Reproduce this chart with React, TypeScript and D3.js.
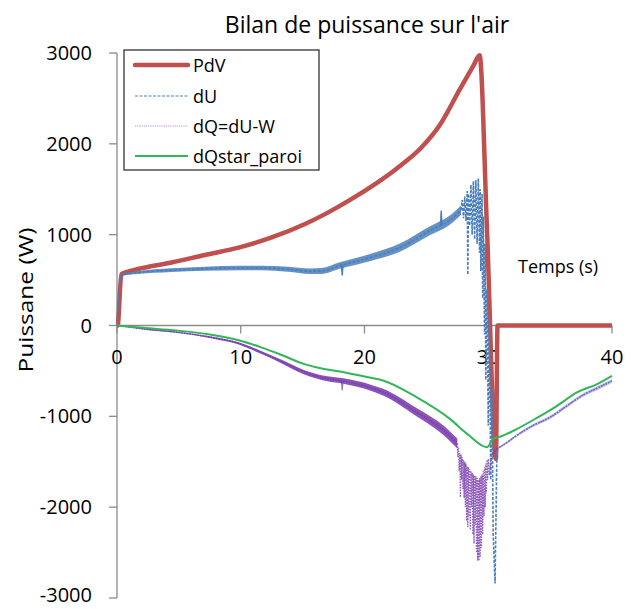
import React from "react";
import * as d3 from "d3";

const xTicks = [0, 10, 20, 30, 40];
const yTicks = [-3000, -2000, -1000, 0, 1000, 2000, 3000];

// PdV (W)
const pdvTime = [0, 0.05, 0.35, 1.7, 4.4, 7.1, 9.9, 12.5, 15.2, 17.0, 18.8, 22.9, 24.6, 26.1, 27.7, 28.8, 29.3, 29.9, 30.62, 30.75, 40];
const pdvValue = [0, 0, 565, 622, 693, 776, 860, 970, 1118, 1240, 1380, 1760, 1960, 2210, 2600, 2860, 2975, 1050, -1470, 0, 0];

// dU smooth part with its noise half-amplitude
const duTime = [0, 0.35, 1.7, 4.4, 7.1, 9.9, 11.7, 13.8, 15.6, 16.5, 18.0, 20.5, 22.9, 25.3, 26.9, 27.8];
const duValue = [0, 555, 583, 610, 625, 633, 633, 620, 598, 600, 660, 750, 860, 1045, 1160, 1270];
const duNoise = [0, 10, 16, 20, 22, 24, 25, 28, 30, 32, 35, 40, 45, 48, 50, 50];
// dU burst near the end of compression
const duBurstTime = [27.8, 27.9, 28.0, 28.1, 28.2, 28.3, 28.35, 28.4, 28.5, 28.6, 28.7, 28.8, 28.9, 29.0, 29.1, 29.2, 29.3, 29.35, 29.4, 29.5, 29.55, 29.6, 29.7, 29.75, 29.8, 29.9, 30.0, 30.1, 30.2, 30.3, 30.4, 30.55, 30.7];
const duBurstValue = [1270, 1380, 1180, 1420, 1150, 1480, 560, 1450, 1100, 1550, 1000, 1590, 950, 1600, 900, 1620, 800, 1500, 600, 1450, 300, 1200, -100, 900, -600, 400, -1100, 100, -1700, -700, -2300, -2840, -1360];
// dU isolated spikes
const duSpikeTime = [18.2, 26.2];
const duSpikeBase = [660, 1110];
const duSpikePeak = [550, 1265];

// dQ = dU - W smooth part
const dqTime = [0, 2.1, 4.8, 7.5, 9.9, 11.6, 13.4, 15.1, 17.0, 18.3, 20.5, 21.5, 24.2, 26.4, 27.5];
const dqValue = [0, -37, -73, -128, -200, -293, -403, -513, -587, -612, -685, -734, -954, -1156, -1300];
const dqNoise = [0, 6, 8, 10, 13, 16, 20, 24, 27, 30, 34, 38, 46, 52, 55];
const dqBurstTime = [27.5, 27.55, 27.6, 27.65, 27.7, 27.75, 27.8, 27.85, 27.9, 27.95, 28.0, 28.05, 28.1, 28.15, 28.2, 28.25, 28.3, 28.35, 28.4, 28.45, 28.5, 28.55, 28.6, 28.65, 28.7, 28.75, 28.8, 28.85, 28.9, 28.95, 29.0, 29.05, 29.1, 29.15, 29.2, 29.25, 29.3, 29.35, 29.4, 29.45, 29.5, 29.55, 29.6, 29.65, 29.7, 29.75, 29.8, 29.85, 29.9, 29.95, 30.0, 30.1, 30.2, 30.45, 30.7];
const dqBurstValue = [-1300, -1450, -1340, -1600, -1400, -1890, -1420, -1700, -1450, -1800, -1480, -1900, -1500, -2000, -1520, -2150, -1550, -2220, -1560, -2100, -1580, -2250, -1600, -2000, -1620, -2300, -1640, -2400, -1650, -2200, -1660, -2500, -1680, -2590, -1700, -2590, -1680, -2550, -1660, -2450, -1640, -2300, -1600, -2100, -1560, -2000, -1520, -1850, -1480, -1700, -1470, -1650, -1470, -1400, -1358];
const dqSpikeTime = [18.2];
const dqSpikeBase = [-620];
const dqSpikePeak = [-715];

// after the end of compression (PdV = 0 so dU = dQ)
const tailTime = [30.7, 31.5, 32.2, 33.5, 35.0, 36.3, 37.6, 38.8, 40.0];
const tailValue = [-1358, -1290, -1220, -1110, -1010, -890, -770, -690, -610];
const tailNoise = [10, 12, 14, 16, 18, 20, 20, 22, 22];

// dQstar_paroi
const gTime = [0, 2.1, 4.8, 7.5, 9.9, 11.6, 13.4, 15.1, 16.1, 18.5, 20.5, 21.5, 24.2, 26.9, 28.3, 29.9, 30.4, 31.0, 32.3, 33.9, 35.5, 37.2, 38.8, 40.0];
const gValue = [0, -26, -55, -99, -165, -238, -330, -422, -459, -520, -575, -605, -789, -1028, -1193, -1340, -1248, -1222, -1140, -1020, -890, -734, -645, -555];

const legendLabels = ["PdV", "dU", "dQ=dU-W", "dQstar_paroi"];

const FONT = "'Open Sans', 'DejaVu Sans', sans-serif";
const RED = "#C0504D";
const BLUE = "#4A7EBB";
const PURPLE = "#7535AA";
const GREEN = "#33B55A";
const AXIS = "#8C8C8C";

type P = [number, number];
const zip = (t: number[], v: number[]): P[] => t.map((d, i) => [d, v[i]]);

export default function App() {
  const x = d3.scaleLinear().domain([0, 40]).range([117, 612]);
  const y = d3.scaleLinear().domain([-3000, 3000]).range([598, 53]);
  const line = d3.line<P>().x((d) => x(d[0])).y((d) => y(d[1]));
  const smooth = d3.line<P>().x((d) => x(d[0])).y((d) => y(d[1])).curve(d3.curveMonotoneX);
  const band = d3
    .area<[number, number, number]>()
    .x((d) => x(d[0]))
    .y0((d) => y(d[1] - d[2]))
    .y1((d) => y(d[1] + d[2]))
    .curve(d3.curveMonotoneX);

  const duBand = duTime.map((t, i) => [t, duValue[i], duNoise[i]] as [number, number, number]);
  const dqBand = dqTime.map((t, i) => [t, dqValue[i], dqNoise[i]] as [number, number, number]);
  const tailBand = tailTime.map((t, i) => [t, tailValue[i], tailNoise[i]] as [number, number, number]);

  const spikes = (ts: number[], b: number[], p: number[]) =>
    ts.map((t, i) => line([[t - 0.06, b[i]], [t, p[i]], [t + 0.06, b[i]]]) as string);

  const legendRows = [65, 96, 126, 156];

  return (
    <svg width={633} height={609} style={{ position: "absolute", left: 0, top: 0, background: "#fff" }} fontFamily={FONT}>
      <rect x={0} y={0} width={633} height={609} fill="#fff" />
      {/* title */}
      <text x={367} y={33} fontSize={23} textAnchor="middle" fill="#000">
        Bilan de puissance sur l'air
      </text>

      {/* axes */}
      <line x1={x(0)} x2={x(0)} y1={y(3000)} y2={y(-3000)} stroke={AXIS} strokeWidth={1.3} />
      <line x1={x(0)} x2={x(40)} y1={y(0)} y2={y(0)} stroke={AXIS} strokeWidth={1.3} />
      {yTicks.map((t) => (
        <g key={"y" + t}>
          <line x1={x(0) - 8} x2={x(0)} y1={y(t)} y2={y(t)} stroke={AXIS} strokeWidth={1.3} />
          <text x={92} y={Math.min(y(t) + 7, 602)} fontSize={20} textAnchor="end" fill="#000">
            {t}
          </text>
        </g>
      ))}
      {xTicks.map((t) => (
        <g key={"x" + t}>
          <line x1={x(t)} x2={x(t)} y1={y(0)} y2={y(0) + 8} stroke={AXIS} strokeWidth={1.3} />
          <text x={x(t)} y={y(0) + 38} fontSize={20} textAnchor="middle" fill="#000">
            {t}
          </text>
        </g>
      ))}
      <text x={518} y={273} fontSize={18} fill="#000">
        Temps (s)
      </text>
      <text
        transform="translate(33,300) rotate(-90)"
        fontSize={20}
        textAnchor="middle"
        fill="#000"
        textLength={145}
        lengthAdjust="spacingAndGlyphs"
      >
        Puissane (W)
      </text>

      {/* PdV */}
      <path d={smooth(zip(pdvTime, pdvValue)) as string} fill="none" stroke={RED} strokeWidth={4.5} strokeLinejoin="round" />

      {/* dU */}
      <path d={band(duBand) as string} fill={BLUE} opacity={0.85} />
      <path d={smooth(zip(duTime, duValue)) as string} fill="none" stroke={BLUE} strokeWidth={1.6} strokeDasharray="3,1.5" />
      <path d={line(zip(duBurstTime, duBurstValue)) as string} fill="none" stroke={BLUE} strokeWidth={1.6} strokeDasharray="3,1.5" />
      {spikes(duSpikeTime, duSpikeBase, duSpikePeak).map((d, i) => (
        <path key={"dus" + i} d={d} fill="none" stroke={BLUE} strokeWidth={1.4} />
      ))}

      {/* dQ */}
      <path d={band(dqBand) as string} fill={PURPLE} opacity={0.85} />
      <path d={band(tailBand) as string} fill="#6A5ACD" opacity={0.35} />
      <path d={smooth(zip(dqTime, dqValue)) as string} fill="none" stroke={PURPLE} strokeWidth={1.5} strokeDasharray="1.5,1.2" opacity={0.85} />
      <path d={line(zip(dqBurstTime, dqBurstValue)) as string} fill="none" stroke={PURPLE} strokeWidth={1.3} strokeDasharray="1.5,1.2" opacity={0.8} />
      <path d={smooth(zip(tailTime, tailValue)) as string} fill="none" stroke={PURPLE} strokeWidth={1.4} strokeDasharray="1.5,1.2" opacity={0.8} />
      {spikes(dqSpikeTime, dqSpikeBase, dqSpikePeak).map((d, i) => (
        <path key={"dqs" + i} d={d} fill="none" stroke={PURPLE} strokeWidth={1.2} opacity={0.7} />
      ))}
      <path d={smooth(zip(tailTime, tailValue)) as string} fill="none" stroke={BLUE} strokeWidth={1.4} strokeDasharray="2,1.5" opacity={0.7} />

      {/* dQstar_paroi */}
      <path d={smooth(zip(gTime, gValue)) as string} fill="none" stroke={GREEN} strokeWidth={2} strokeLinejoin="round" />

      {/* legend */}
      <rect x={124} y={50} width={195} height={120} fill="#fff" stroke="#333" strokeWidth={1.3} />
      {legendLabels.map((lab, i) => {
        const ly = legendRows[i];
        const stroke = [RED, BLUE, "#B48CD6", GREEN][i];
        const sw = [4.5, 1.2, 1.2, 2][i];
        const dash = [undefined, "3,1.5", "1.2,1", undefined][i];
        return (
          <g key={lab}>
            <line x1={135} x2={188} y1={ly} y2={ly} stroke={stroke} strokeWidth={sw} strokeDasharray={dash} strokeLinecap={i === 0 ? "round" : "butt"} />
            <text x={193} y={ly + 6.5} fontSize={18} fill="#000">
              {lab}
            </text>
          </g>
        );
      })}
    </svg>
  );
}
